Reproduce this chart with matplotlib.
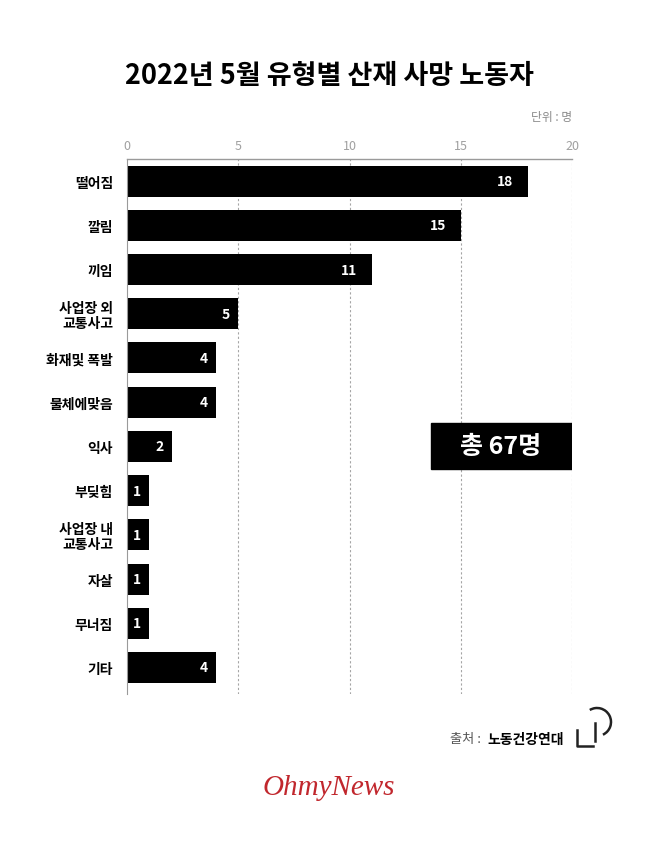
import matplotlib
matplotlib.use('Agg')
import matplotlib.pyplot as plt
from matplotlib.patches import Rectangle, Arc
from matplotlib.lines import Line2D

plt.rcParams['font.family'] = ['Noto Sans CJK KR', 'DejaVu Sans']

categories = ['떨어짐', '깔림', '끼임', '사업장 외\n교통사고', '화재및 폭발', '물체에맞음',
              '익사', '부딪힘', '사업장 내\n교통사고', '자살', '무너짐', '기타']
deaths = [18, 15, 11, 5, 4, 4, 2, 1, 1, 1, 1, 4]
xticks = [0, 5, 10, 15, 20]

W, H = 658, 853
fig = plt.figure(figsize=(W / 100, H / 100), dpi=100)
ax = fig.add_axes([127 / W, 1 - 695 / H, (572 - 127) / W, (695 - 160) / H])

ypos = list(range(len(categories)))
ax.barh(ypos, deaths, height=0.7, color='black')
for y, v in zip(ypos, deaths):
    off = 1.0 if v >= 10 else 0.55
    ax.text(v - off, y, str(v), color='white', ha='center', va='center',
            fontsize=10, fontweight='bold')

ax.set_xlim(0, 20)
ax.set_ylim(11.6, -0.5)
ax.set_yticks(ypos)
ax.set_yticklabels(categories, fontsize=10, fontweight='bold', linespacing=1.1)
ax.tick_params(axis='y', length=0, pad=10)
ax.xaxis.tick_top()
ax.set_xticks(xticks)
ax.tick_params(axis='x', length=0, labelsize=9, labelcolor='#a0a0a0', pad=5)
for x in xticks[1:]:
    ax.axvline(x, color='#a5a5a5', lw=0.8, ls=(0, (2, 2)), zorder=0)
for s in ['right', 'bottom']:
    ax.spines[s].set_visible(False)
ax.spines['top'].set_color('#9a9a9a')
ax.spines['left'].set_color('#9a9a9a')
ax.spines['top'].set_linewidth(1)
ax.spines['left'].set_linewidth(0.8)

# total box, aligned with the 익사 row
ax.add_patch(Rectangle((13.65, 5.48), 6.35, 1.04, color='black', zorder=3))
ax.text(16.8, 6.0, '총 67명', color='white', fontsize=18, fontweight='bold',
        ha='center', va='center', zorder=4)

fig.text(0.5, 1 - 76 / H, '2022년 5월 유형별 산재 사망 노동자', ha='center', va='center',
         fontsize=19.5, fontweight='bold')
fig.text(572 / W, 1 - 118 / H, '단위 : 명', ha='right', va='center', fontsize=8.5,
         color='#8a8a8a')

# decorations drawn in pixel coordinates
deco = fig.add_axes([0, 0, 1, 1], zorder=-1)
deco.set_xlim(0, W)
deco.set_ylim(H, 0)
deco.axis('off')
deco.text(484, 740, '출처 : ', ha='right', va='center', fontsize=9.5, color='#555555')
deco.text(487, 740, '노동건강연대', ha='left', va='center', fontsize=10, fontweight='bold')
deco.add_line(Line2D([577, 577, 593], [731, 747, 747], color='#222222', lw=1.8))
deco.add_line(Line2D([595, 595], [724, 742], color='#222222', lw=1.8))
deco.add_patch(Arc((597, 723), 28, 28, theta1=-121, theta2=65, color='#222222', lw=1.8))

deco.text(329, 788, 'OhmyNews', ha='center', va='center', fontsize=21,
          family='Liberation Serif', style='italic', color='#c1272d')

fig.savefig('out.png', dpi=100, facecolor='white')
